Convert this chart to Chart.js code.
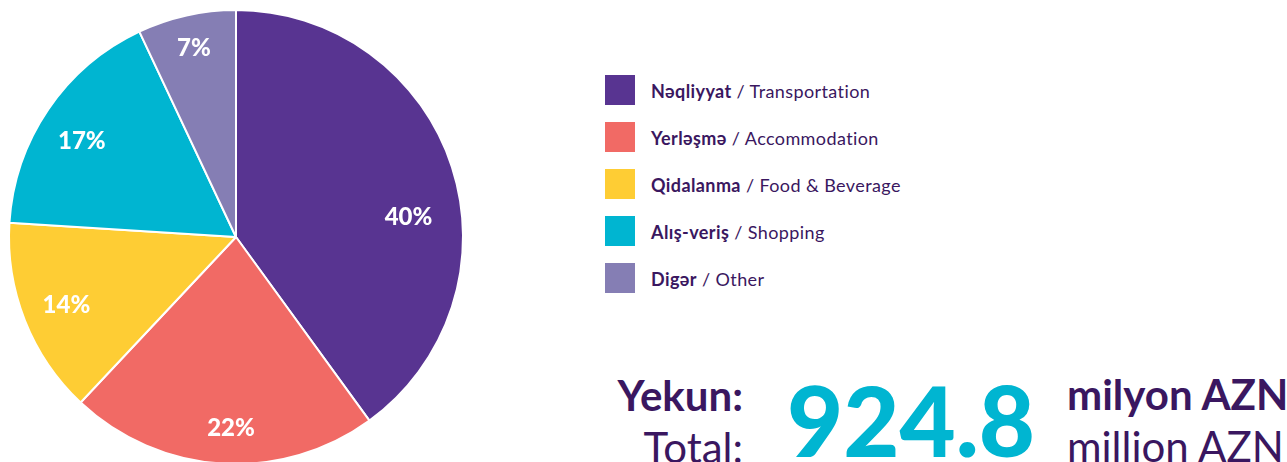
<!DOCTYPE html>
<html>
<head>
<meta charset="utf-8">
<script src="https://cdn.jsdelivr.net/npm/chart.js@4.4.1/dist/chart.umd.min.js"></script>
<style>
  html, body { margin: 0; padding: 0; background: #fff; }
  body { width: 1287px; height: 462px; position: relative; overflow: hidden; font-family: Lato, "Noto Sans", sans-serif; color: #3a1760; }
  #pieBox { position: absolute; left: 0; top: 0; width: 472px; height: 466px; }
  #legend { position: absolute; left: 605px; top: 75px; }
  .item { position: relative; height: 47px; }
  .swatch { position: absolute; left: 0; top: 0; width: 30px; height: 30px; }
  .label { position: absolute; left: 46px; top: 16px; line-height: 0; white-space: nowrap; font-size: 18px; letter-spacing: 0.4px; }
  .label b { font-weight: 700; }
  .t { position: absolute; line-height: 0; white-space: nowrap; }
</style>
</head>
<body>
<div id="pieBox"><canvas id="chart"></canvas></div>
<div id="legend"></div>
<div class="t" style="right:544px; top:395px; font-size:42px; font-weight:700;">Yekun:</div>
<div class="t" style="right:544px; top:447px; font-size:42px; font-weight:400;">Total:</div>
<div class="t" style="left:787px; top:420px; font-size:97px; font-weight:900; color:#00b5d1;">924.8</div>
<div class="t" style="left:1067px; top:394px; font-size:42px; font-weight:700;">milyon AZN</div>
<div class="t" style="left:1067px; top:446px; font-size:42px; font-weight:400;">million AZN</div>

<script>
// data
const namesAz = ["Nəqliyyat", "Yerləşmə", "Qidalanma", "Alış-veriş", "Digər"]
const namesEn = ["Transportation", "Accommodation", "Food & Beverage", "Shopping", "Other"]
const shares = [40, 22, 14, 17, 7]
const colors = ["#583491", "#f16a65", "#fecd34", "#00b5d1", "#857eb4"]

// legend built from the same arrays
const legend = document.getElementById("legend")
namesAz.forEach((az, i) => {
    const row = document.createElement("div")
    row.className = "item"
    row.innerHTML = '<div class="swatch" style="background:' + colors[i] + '"></div>' +
        '<div class="label"><b>' + az + '</b> / ' + namesEn[i] + '</div>'
    legend.appendChild(row)
})

// percent labels inside the slices
const sliceLabels = {
    id: "sliceLabels",
    afterDatasetsDraw(chart, args, opts) {
        const ctx = chart.ctx
        const meta = chart.getDatasetMeta(0)
        ctx.save()
        ctx.fillStyle = "#fff"
        ctx.font = "900 24px Lato"
        ctx.textAlign = "center"
        ctx.textBaseline = "middle"
        meta.data.forEach((arc, i) => {
            const mid = (arc.startAngle + arc.endAngle) / 2 + opts.shift[i] * Math.PI / 180
            const r = arc.outerRadius * opts.radius[i]
            ctx.fillText(chart.data.datasets[0].data[i] + "%", arc.x + r * Math.cos(mid), arc.y + r * Math.sin(mid))
        })
        ctx.restore()
    }
}

new Chart(document.getElementById("chart"), {
    type: "pie",
    data: {
        labels: namesEn,
        datasets: [{
            data: shares,
            backgroundColor: colors,
            borderColor: "#fff",
            borderWidth: 2,
            hoverOffset: 0
        }]
    },
    options: {
        responsive: true,
        maintainAspectRatio: false,
        animation: false,
        layout: { padding: { left: 8, top: 8, right: 8, bottom: 0 } },
        plugins: {
            legend: { display: false },
            tooltip: { enabled: false },
            sliceLabels: {
                shift: [11.4, -2.1, -0.3, -2.3, 0],
                radius: [0.765, 0.845, 0.805, 0.8, 0.85]
            }
        }
    },
    plugins: [sliceLabels]
})
</script>
</body>
</html>
